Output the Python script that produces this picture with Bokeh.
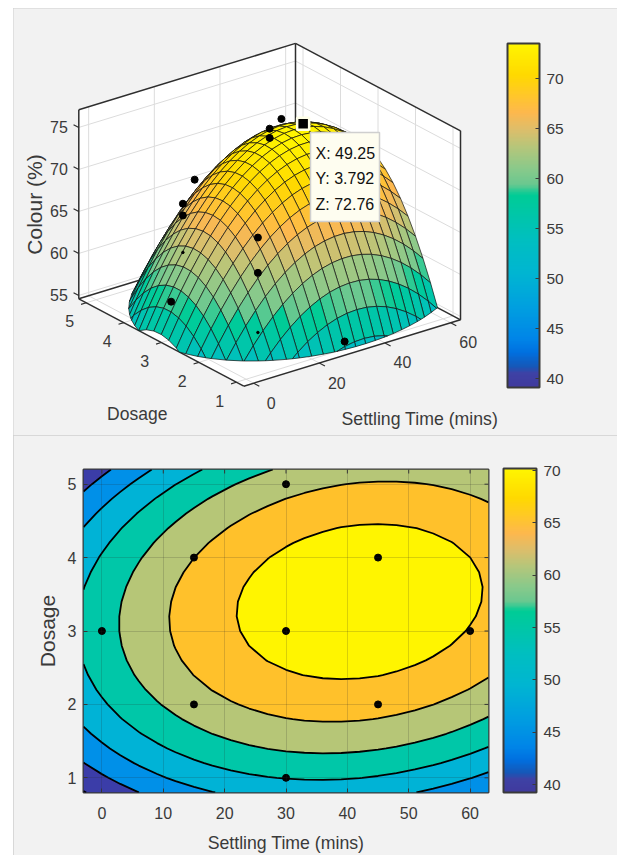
import numpy as np
from bokeh.plotting import figure
from bokeh.layouts import column, row
from bokeh.models import ColorBar, ColumnDataSource, FixedTicker, LinearColorMapper, Range1d
from bokeh.core.properties import value
from bokeh.embed import file_html
from bokeh.resources import INLINE

# ---------- data ----------
grid_x = [-3, 0, 3, 6, 9, 12, 15, 18, 21, 24, 27, 30, 33, 36, 39, 42, 45, 48, 51, 54, 57, 60, 63]
grid_y = [0.8, 1.0, 1.2, 1.4, 1.6, 1.8, 2.0, 2.2, 2.4, 2.6, 2.8, 3.0, 3.2, 3.4, 3.6, 3.8, 4.0, 4.2, 4.4, 4.6, 4.8, 5.0, 5.2]
surface_z = [
 [38.91,40.90,42.72,44.38,45.87,47.20,48.37,49.37,50.21,50.88,51.39,51.74,51.92,51.94,51.80,51.49,51.02,50.38,49.58,48.62,47.49,46.20,44.75],
 [41.73,43.75,45.60,47.29,48.81,50.17,51.37,52.40,53.27,53.97,54.51,54.89,55.10,55.15,55.04,54.76,54.32,53.71,52.94,52.01,50.91,49.65,48.23],
 [44.29,46.34,48.22,49.94,51.49,52.88,54.11,55.17,56.07,56.80,57.37,57.78,58.02,58.10,58.02,57.77,57.36,56.78,56.04,55.14,54.07,52.84,51.45],
 [46.59,48.67,50.58,52.33,53.91,55.33,56.59,57.68,58.61,59.37,59.97,60.41,60.68,60.79,60.74,60.52,60.14,59.59,58.88,58.01,56.97,55.77,54.41],
 [48.63,50.74,52.68,54.46,56.07,57.52,58.81,59.93,60.89,61.68,62.31,62.78,63.08,63.22,63.20,63.01,62.66,62.14,61.46,60.62,59.61,58.44,57.11],
 [50.40,52.54,54.51,56.32,57.96,59.44,60.76,61.91,62.90,63.72,64.38,64.88,65.21,65.38,65.39,65.23,64.91,64.42,63.77,62.96,61.98,60.84,59.54],
 [51.91,54.08,56.08,57.92,59.59,61.10,62.45,63.63,64.65,65.50,66.19,66.72,67.08,67.28,67.32,67.19,66.90,66.44,65.82,65.04,64.09,62.98,61.71],
 [53.16,55.36,57.39,59.26,60.96,62.50,63.88,65.09,66.14,67.02,67.74,68.30,68.69,68.92,68.99,68.89,68.63,68.20,67.61,66.86,65.94,64.86,63.62],
 [54.15,56.38,58.44,60.34,62.07,63.64,65.05,66.29,67.37,68.28,69.03,69.62,70.04,70.30,70.40,70.33,70.10,69.70,69.14,68.42,67.53,66.48,65.27],
 [54.88,57.14,59.23,61.16,62.92,64.52,65.96,67.23,68.34,69.28,70.06,70.68,71.13,71.42,71.55,71.51,71.31,70.94,70.41,69.72,68.86,67.84,66.66],
 [55.34,57.63,59.75,61.71,63.50,65.13,66.60,67.90,69.04,70.01,70.82,71.47,71.95,72.27,72.43,72.42,72.25,71.91,71.41,70.75,69.92,68.93,67.78],
 [55.55,57.87,60.02,62.01,63.83,65.49,66.99,68.32,69.49,70.49,71.33,72.01,72.52,72.87,73.06,73.08,72.94,72.63,72.16,71.53,70.73,69.77,68.65],
 [55.49,57.84,60.02,62.04,63.89,65.58,67.11,68.47,69.67,70.70,71.57,72.28,72.82,73.20,73.42,73.47,73.36,73.08,72.64,72.04,71.27,70.34,69.25],
 [55.17,57.55,59.76,61.81,63.69,65.41,66.97,68.36,69.59,70.65,71.55,72.29,72.86,73.27,73.52,73.60,73.52,73.27,72.86,72.29,71.55,70.65,69.59],
 [54.59,57.00,59.24,61.32,63.23,64.98,66.57,67.99,69.25,70.34,71.27,72.04,72.64,73.08,73.36,73.47,73.42,73.20,72.82,72.28,71.57,70.70,69.67],
 [53.75,56.19,58.46,60.57,62.51,64.29,65.91,67.36,68.65,69.77,70.73,71.53,72.16,72.63,72.94,73.08,73.06,72.87,72.52,72.01,71.33,70.49,69.49],
 [52.64,55.11,57.41,59.55,61.52,63.33,64.98,66.46,67.78,68.93,69.92,70.75,71.41,71.91,72.25,72.42,72.43,72.27,71.95,71.47,70.82,70.01,69.04],
 [51.28,53.78,56.11,58.28,60.28,62.12,63.80,65.31,66.66,67.84,68.86,69.72,70.41,70.94,71.31,71.51,71.55,71.42,71.13,70.68,70.06,69.28,68.34],
 [49.65,52.18,54.54,56.74,58.77,60.64,62.35,63.89,65.27,66.48,67.53,68.42,69.14,69.70,70.10,70.33,70.40,70.30,70.04,69.62,69.03,68.28,67.37],
 [47.76,50.32,52.71,54.94,57.00,58.90,60.64,62.21,63.62,64.86,65.94,66.86,67.61,68.20,68.63,68.89,68.99,68.92,68.69,68.30,67.74,67.02,66.14],
 [45.61,48.20,50.62,52.88,54.97,56.90,58.67,60.27,61.71,62.98,64.09,65.04,65.82,66.44,66.90,67.19,67.32,67.28,67.08,66.72,66.19,65.50,64.65],
 [43.20,45.82,48.27,50.56,52.68,54.64,56.44,58.07,59.54,60.84,61.98,62.96,63.77,64.42,64.91,65.23,65.39,65.38,65.21,64.88,64.38,63.72,62.90],
 [40.53,43.18,45.66,47.98,50.13,52.12,53.95,55.61,57.11,58.44,59.61,60.62,61.46,62.14,62.66,63.01,63.20,63.22,63.08,62.78,62.31,61.68,60.89],
]
# measured runs: settling time, dosage, colour
pts_x = [0, 15, 15, 15, 15, 30, 30, 30, 45, 30, 60]
pts_y = [3, 4, 4, 2, 2, 5, 3, 3, 4, 1, 3]
pts_z = [59.1, 66.6, 65.2, 67.3, 63.1, 65.3, 76.1, 75.0, 73.1, 55.5, 71.4]
buried_x = [15, 15]
buried_y = [4, 2]
buried_z = [60.8, 56.0]
design_x = [0, 15, 15, 30, 30, 30, 45, 45, 60]
design_y = [3, 4, 2, 5, 3, 1, 4, 2, 3]
tip_x, tip_y, tip_z = 49.25, 3.792, 72.76
tip_lines = ["X: 49.25", "Y: 3.792", "Z: 72.76"]
contour_levels = [38, 39.2, 44.4, 49.5, 54.7, 59.9, 65.0, 70.0, 74]
band_colors = ["#3B3DA8", "#3B3DA8", "#0090E8", "#00B3D6", "#00C7A8", "#B6C677", "#FFC12B", "#FFF500"]
x3_ticks = [0, 20, 40, 60]
y3_ticks = [1, 2, 3, 4, 5]
z3_ticks = [55, 60, 65, 70, 75]
x2_ticks = [0, 10, 20, 30, 40, 50, 60]
y2_ticks = [1, 2, 3, 4, 5]
cb_ticks = [40, 45, 50, 55, 60, 65, 70]
stop_t = [0, .04, .06, .10, .14, .23, .33, .43, .56, .59, .64, .70, .75, .80, .85, .91, 1]
stop_c = ["#403A9E", "#3E42A5", "#1558B8", "#0070E0", "#0085E8", "#009FE0", "#00B5D2", "#00BFC0",
          "#00CC96", "#6AC890", "#8CC98A", "#B6C67A", "#DDBE6B", "#FDB84E", "#FFC72A", "#FFD900", "#FFF500"]

FONT = "Liberation Sans"
BG = "#f2f2f2"
INK = "#3a3a3a"

def ramp(n=256):
    rgb = np.array([[int(c[i:i+2], 16) for i in (1, 3, 5)] for c in stop_c], float)
    t = np.linspace(0, 1, n)
    out = np.column_stack([np.interp(t, stop_t, rgb[:, k]) for k in range(3)]).round().astype(int)
    return ["#%02X%02X%02X" % tuple(r) for r in out]

PALETTE = ramp()

# ---------- 3-D panel: page pixel space, data projected orthographically ----------
XLO, XHI, YLO, YHI, ZLO, ZHI = -3, 63, 0.8, 5.2, 54.6, 77.1
FX, FY = 243.3, 385.7

def proj(x, y, z):
    t = (np.asarray(x, float) - XLO) / (XHI - XLO)
    u = (np.asarray(y, float) - YLO) / (YHI - YLO)
    v = (np.asarray(z, float) - ZLO) / (ZHI - ZLO)
    return FX + t * 216.7 - u * 165.0, FY - t * 66.4 - u * 87.4 - v * 189.0

p3 = figure(width=604, height=427, x_range=Range1d(13, 617), y_range=Range1d(435, 8),
            output_backend="svg", toolbar_location=None, min_border=0,
            background_fill_color=BG, border_fill_color=BG, outline_line_color=None,
            margin=(8, 0, 0, 13),
            styles={"outline": "1px solid #cfcfcf", "outline-offset": "-1px"})
p3.axis.visible = False
p3.grid.visible = False

def seg(px, a, b, **kw):
    xs, ys = proj([a[0], b[0]], [a[1], b[1]], [a[2], b[2]])
    px.line(xs, ys, **kw)

for corners in ([(XLO, YHI, ZLO), (XHI, YHI, ZLO), (XHI, YHI, ZHI), (XLO, YHI, ZHI)],
                [(XHI, YLO, ZLO), (XHI, YHI, ZLO), (XHI, YHI, ZHI), (XHI, YLO, ZHI)],
                [(XLO, YLO, ZLO), (XHI, YLO, ZLO), (XHI, YHI, ZLO), (XLO, YHI, ZLO)]):
    c = np.array(corners)
    xs, ys = proj(c[:, 0], c[:, 1], c[:, 2])
    p3.patch(xs, ys, fill_color="white", line_color=None)

GRID = dict(line_color="#dcdcdc", line_width=1)
for x in x3_ticks:
    seg(p3, (x, YHI, ZLO), (x, YHI, ZHI), **GRID)
    seg(p3, (x, YLO, ZLO), (x, YHI, ZLO), **GRID)
for y in y3_ticks:
    seg(p3, (XHI, y, ZLO), (XHI, y, ZHI), **GRID)
    seg(p3, (XLO, y, ZLO), (XHI, y, ZLO), **GRID)
for z in z3_ticks:
    seg(p3, (XLO, YHI, z), (XHI, YHI, z), **GRID)
    seg(p3, (XHI, YLO, z), (XHI, YHI, z), **GRID)

EDGE = dict(line_color="#2e2e2e", line_width=1.5)
for a, b in [((XLO, YHI, ZLO), (XLO, YHI, ZHI)), ((XLO, YHI, ZHI), (XHI, YHI, ZHI)),
             ((XHI, YHI, ZHI), (XHI, YHI, ZLO)), ((XHI, YHI, ZHI), (XHI, YLO, ZHI)),
             ((XHI, YLO, ZHI), (XHI, YLO, ZLO)), ((XLO, YHI, ZLO), (XHI, YHI, ZLO)),
             ((XHI, YHI, ZLO), (XHI, YLO, ZLO)), ((XLO, YHI, ZLO), (XLO, YLO, ZLO)),
             ((XLO, YLO, ZLO), (XHI, YLO, ZLO))]:
    seg(p3, a, b, **EDGE)
TICK = dict(line_color="#2e2e2e", line_width=1.2)
for x in x3_ticks:
    seg(p3, (x, YLO, ZLO), (x, YLO - 0.15, ZLO), **TICK)
for y in y3_ticks:
    seg(p3, (XLO, y, ZLO), (XLO - 1.6, y, ZLO), **TICK)
for z in z3_ticks:
    seg(p3, (XLO, YHI, z), (XLO, YHI + 0.14, z), **TICK)

def clip_floor(poly):
    out = []
    for i, a in enumerate(poly):
        b = poly[(i + 1) % len(poly)]
        if a[2] >= ZLO:
            out.append(a)
        if (a[2] >= ZLO) != (b[2] >= ZLO):
            f = (ZLO - a[2]) / (b[2] - a[2])
            out.append((a[0] + f * (b[0] - a[0]), a[1] + f * (b[1] - a[1]), ZLO))
    return out

mapper3 = LinearColorMapper(palette=PALETTE, low=39.1, high=73.5)
xs3, ys3, zs3 = [], [], []
for j in range(len(grid_y) - 2, -1, -1):
    for i in range(len(grid_x) - 2, -1, -1):
        poly = [(grid_x[i], grid_y[j], surface_z[j][i]), (grid_x[i+1], grid_y[j], surface_z[j][i+1]),
                (grid_x[i+1], grid_y[j+1], surface_z[j+1][i+1]), (grid_x[i], grid_y[j+1], surface_z[j+1][i])]
        cz = sum(c[2] for c in poly) / 4
        poly = clip_floor(poly)
        if len(poly) < 3:
            continue
        a = np.array(poly)
        px_, py_ = proj(a[:, 0], a[:, 1], a[:, 2])
        xs3.append(px_.tolist()); ys3.append(py_.tolist()); zs3.append(cz)
p3.patches("xs", "ys", source=ColumnDataSource(dict(xs=xs3, ys=ys3, z=zs3)),
           fill_color={"field": "z", "transform": mapper3},
           line_color="#111111", line_alpha=0.7, line_width=1.0)

dx, dy = proj(pts_x, pts_y, pts_z)
p3.scatter(dx, dy, size=7, color="black")
dx2, dy2 = proj(buried_x, buried_y, buried_z)
p3.scatter(dx2, dy2, size=2.5, color="black")

tx, ty = proj(tip_x, tip_y, tip_z)
p3.scatter([tx], [ty + 2], marker="square", size=12, color="black", line_color="#FFFFE8", line_width=2.5)
p3.quad(left=310, right=379, top=132, bottom=221, fill_color="#FEFDF0", line_color="#cfcfcf", line_width=1.5)
p3.text([315] * 3, [152.5, 178, 203.5], text=tip_lines, text_font=value(FONT), text_font_size="16px",
        text_color="#111111", text_baseline="middle", text_align="left")

LAB = dict(text_font=value(FONT), text_font_size="16px", text_color=INK, text_baseline="middle")
lx, ly = proj(x3_ticks, [YLO] * 4, [ZLO] * 4)
p3.text(lx + 17.5, ly + 19.5, text=[str(v) for v in x3_ticks], text_align="center", **LAB)
lx, ly = proj([XLO] * 5, y3_ticks, [ZLO] * 5)
p3.text(lx - 16.5, ly + 18.7, text=[str(v) for v in y3_ticks], text_align="center", **LAB)
lx, ly = proj([XLO] * 5, [YHI] * 5, z3_ticks)
p3.text(lx - 11, ly, text=[str(v) for v in z3_ticks], text_align="right", **LAB)
TITLE = dict(text_font=value(FONT), text_color=INK, text_baseline="middle", text_align="center")
p3.text([136.7], [413.5], text=["Dosage"], text_font_size="17.5px", **TITLE)
p3.text([419.3], [418.5], text=["Settling Time (mins)"], text_font_size="17.7px", **TITLE)
p3.text([34], [204], text=["Colour (%)"], text_font_size="21px", angle=np.pi / 2, **TITLE)

CB = dict(ticker=FixedTicker(ticks=cb_ticks), padding=0, margin=0,
          bar_line_color="#3a3a3a", bar_line_width=2, border_line_color=None,
          major_tick_line_color="#3a3a3a", major_tick_in=4, major_tick_out=0, minor_tick_line_color=None,
          major_label_text_font=FONT, major_label_text_font_size="15.5px", major_label_text_color=INK,
          label_standoff=7, background_fill_alpha=0)
p3.add_layout(ColorBar(color_mapper=mapper3, width=32, height=344, location=(494, 48), **CB))

# ---------- contour panel ----------
p2 = figure(width=604, height=420, x_range=Range1d(-3, 63), y_range=Range1d(0.8, 5.2),
            output_backend="svg", toolbar_location=None,
            min_border_left=70, min_border_right=129, min_border_top=34, min_border_bottom=62,
            background_fill_color="white", border_fill_color=BG,
            outline_line_color="#3a3a3a", outline_line_width=2,
            x_axis_label="Settling Time (mins)", y_axis_label="Dosage", margin=(0, 0, 0, 13),
            styles={"outline": "1px solid #cfcfcf", "outline-offset": "-1px"})
p2.contour(grid_x, grid_y, np.array(surface_z), levels=contour_levels, fill_color=band_colors,
           line_color="black", line_width=1.8)
p2.scatter(design_x, design_y, size=7, color="black")
p2.xaxis.ticker = FixedTicker(ticks=x2_ticks)
p2.yaxis.ticker = FixedTicker(ticks=y2_ticks)
p2.grid.level = "overlay"
p2.grid.grid_line_color = "#262626"
p2.grid.grid_line_alpha = 0.18
p2.grid.grid_line_width = 1
p2.xgrid.ticker = FixedTicker(ticks=x2_ticks)
p2.ygrid.ticker = FixedTicker(ticks=y2_ticks)
for ax in (p2.xaxis[0], p2.yaxis[0]):
    ax.axis_line_color = None
    ax.major_tick_in = 4
    ax.major_tick_out = 0
    ax.minor_tick_line_color = None
    ax.major_tick_line_color = "#3a3a3a"
    ax.major_label_text_font = FONT
    ax.major_label_text_font_size = "16px"
    ax.major_label_text_color = INK
    ax.axis_label_text_font = FONT
    ax.axis_label_text_font_style = "normal"
    ax.axis_label_text_color = INK
p2.xaxis[0].axis_label_text_font_size = "17.7px"
p2.yaxis[0].axis_label_text_font_size = "21px"
p2.xaxis[0].major_label_standoff = 14
p2.xaxis[0].axis_label_standoff = 11
p2.yaxis[0].major_label_standoff = 7
p2.yaxis[0].axis_label_standoff = 6
p2.ray(x2_ticks, [5.2] * len(x2_ticks), length=4, length_units="screen", angle=-np.pi / 2,
       line_color="#3a3a3a", line_width=1)
p2.ray([63] * len(y2_ticks), y2_ticks, length=4, length_units="screen", angle=np.pi,
       line_color="#3a3a3a", line_width=1)
mapper2 = LinearColorMapper(palette=PALETTE, low=39.24, high=70.2)
p2.add_layout(ColorBar(color_mapper=mapper2, width=33, height=324, location=(420, 0), **CB))

open("out.html", "w").write(file_html(column(row(p3), row(p2), spacing=0), INLINE))
